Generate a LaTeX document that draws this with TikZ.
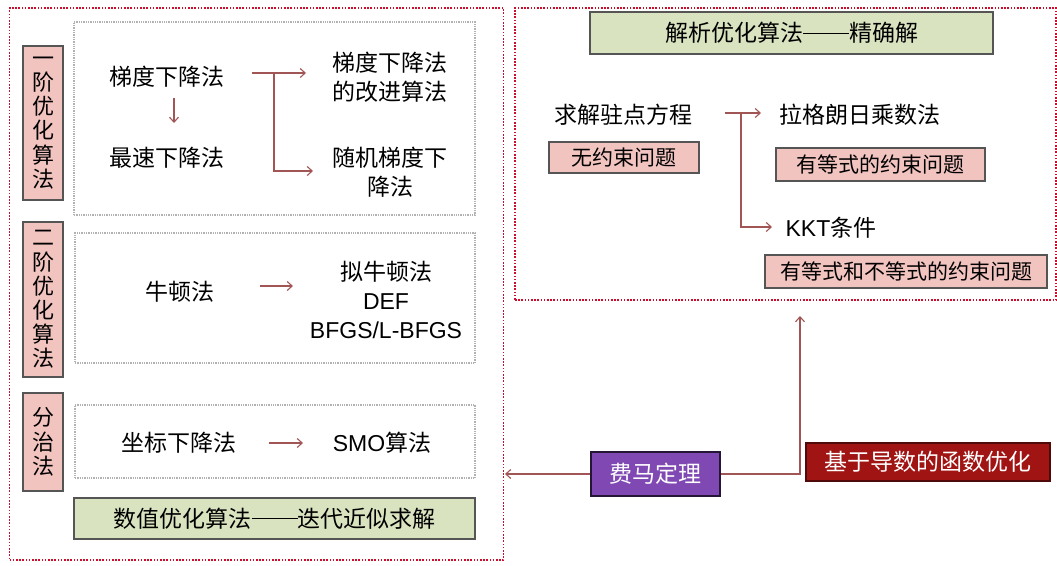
\documentclass[tikz,border=0pt]{standalone}
\usepackage{fontspec}
\setmainfont{Noto Sans CJK SC}
\newfontfamily\lat{Liberation Sans}
\usetikzlibrary{arrows.meta}
\definecolor{pinkf}{HTML}{F2C4C0}
\definecolor{greenf}{HTML}{D9E3C0}
\definecolor{edgec}{HTML}{555555}
\definecolor{arrowc}{HTML}{A25555}
\definecolor{redline}{HTML}{C8102E}
\definecolor{purplef}{HTML}{7F48B2}
\definecolor{darkredf}{HTML}{A01414}
\newcommand{\cjkdash}{\rule[0.34em]{2em}{0.06em}}
\begin{document}
\begin{tikzpicture}[x=1pt,y=-1pt,
  pinkbox/.style={draw=edgec, fill=pinkf, line width=1.2pt, inner sep=0pt},
  vbox/.style={pinkbox, align=center, font=\fontsize{22}{24.2}\selectfont},
  greenbox/.style={draw=edgec, fill=greenf, line width=1.2pt, inner sep=0pt, font=\fontsize{23}{28}\selectfont},
  graybox/.style={draw=gray!60, densely dotted, line width=1.3pt, inner sep=0pt},
  reddot/.style={draw=redline, line width=1.7pt, dash pattern=on 1.6pt off 1.6pt},
  txt/.style={inner sep=0pt, align=center, font=\fontsize{23}{29.3}\selectfont},
  smalltxt/.style={font=\fontsize{21}{25}\selectfont},
  arr/.style={draw=arrowc, line width=1.1pt, -{Straight Barb[length=5pt,width=9pt]}}
]
\useasboundingbox (0,0) rectangle (1057,565);

% outer red dotted frames
\node[reddot, inner sep=0pt, minimum width=494pt, minimum height=552pt] (leftframe) at (256.5,284) {};
\node[reddot, inner sep=0pt, minimum width=541pt, minimum height=292pt] (rightframe) at (785.5,154) {};

% left column pink vertical labels
\node[vbox, minimum width=40pt, minimum height=154pt] (p1) at (43,123) {一\\阶\\优\\化\\算\\法};
\node[vbox, minimum width=40pt, minimum height=155pt] (p2) at (43,299.5) {二\\阶\\优\\化\\算\\法};
\node[vbox, minimum width=40pt, minimum height=98pt] (p3) at (43,442) {分\\治\\法};

% gray dotted boxes
\node[graybox, minimum width=401pt, minimum height=193pt] (g1) at (274.5,118.5) {};
\node[graybox, minimum width=400pt, minimum height=130pt] (g2) at (275,298) {};
\node[graybox, minimum width=400pt, minimum height=73pt] (g3) at (275,441.5) {};
\node[greenbox, minimum width=401pt, minimum height=41pt] (gb) at (274.5,518.5) {数值优化算法\cjkdash 迭代近似求解};

% first order
\node[txt] (t1) at (167,77) {梯度下降法};
\node[txt] (t2) at (167,158) {最速下降法};
\node[txt] (t3) at (390,77.5) {梯度下降法\\的改进算法};
\node[txt] (t4) at (390,172.5) {随机梯度下\\降法};
\coordinate (a1s) at (174,98);
\coordinate (a1e) at (174,123);
\draw[arr] (a1s) -- (a1e);
\coordinate (b1s) at (252,73);
\coordinate (b1e) at (306,73);
\coordinate (b1j) at (274,73);
\coordinate (b1f) at (313,171);
\draw[arr] (b1s) -- (b1e);
\draw[arr] (b1j) |- (b1f);

% second order
\node[txt] (n1) at (180,292) {牛顿法};
\node[txt] (n2) at (386,300) {拟牛顿法\\{\lat DEF}\\{\lat BFGS/L-BFGS}};
\coordinate (n1s) at (260,286);
\coordinate (n1e) at (293,286);
\draw[arr] (n1s) -- (n1e);

% divide and conquer
\node[txt] (c1) at (179,443) {坐标下降法};
\node[txt] (c2) at (382,443) {{\lat SMO}算法};
\coordinate (c1s) at (269,443);
\coordinate (c1e) at (303,443);
\draw[arr] (c1s) -- (c1e);

% right side
\node[greenbox, minimum width=403pt, minimum height=42pt] (gt) at (791.5,33) {解析优化算法\cjkdash 精确解};
\node[txt] (r1) at (623,115) {求解驻点方程};
\node[pinkbox, smalltxt, minimum width=150pt, minimum height=31pt] (r1b) at (624,157.5) {无约束问题};
\node[txt] (r2) at (860,115) {拉格朗日乘数法};
\node[pinkbox, smalltxt, minimum width=209pt, minimum height=33pt] (r2b) at (880.5,164.5) {有等式的约束问题};
\node[txt] (r3) at (831,228) {{\lat KKT}条件};
\node[pinkbox, smalltxt, minimum width=282pt, minimum height=33pt] (r3b) at (906,271.5) {有等式和不等式的约束问题};
\coordinate (r1s) at (725,113);
\coordinate (r1e) at (761,113);
\coordinate (r1j) at (741,113);
\coordinate (r3e) at (772,227);
\draw[arr] (r1s) -- (r1e);
\draw[arr] (r1j) |- (r3e);

% bottom right
\node[draw=black!70!purplef, fill=purplef, line width=1.2pt, inner sep=0pt, minimum width=129pt, minimum height=44pt, text=white, font=\fontsize{23}{28}\selectfont] (fm) at (655.5,474) {费马定理};
\node[draw=black!50!darkredf, fill=darkredf, line width=1.2pt, inner sep=0pt, minimum width=244pt, minimum height=38pt, text=white, font=\fontsize{23}{28}\selectfont] (df) at (928,462) {基于导数的函数优化};
\coordinate (up) at (800,316);
\coordinate (lefttip) at (505,474);
\draw[arr] (fm.east) -| (up);
\draw[arr] (fm.west) -- (lefttip);
\end{tikzpicture}
\end{document}
